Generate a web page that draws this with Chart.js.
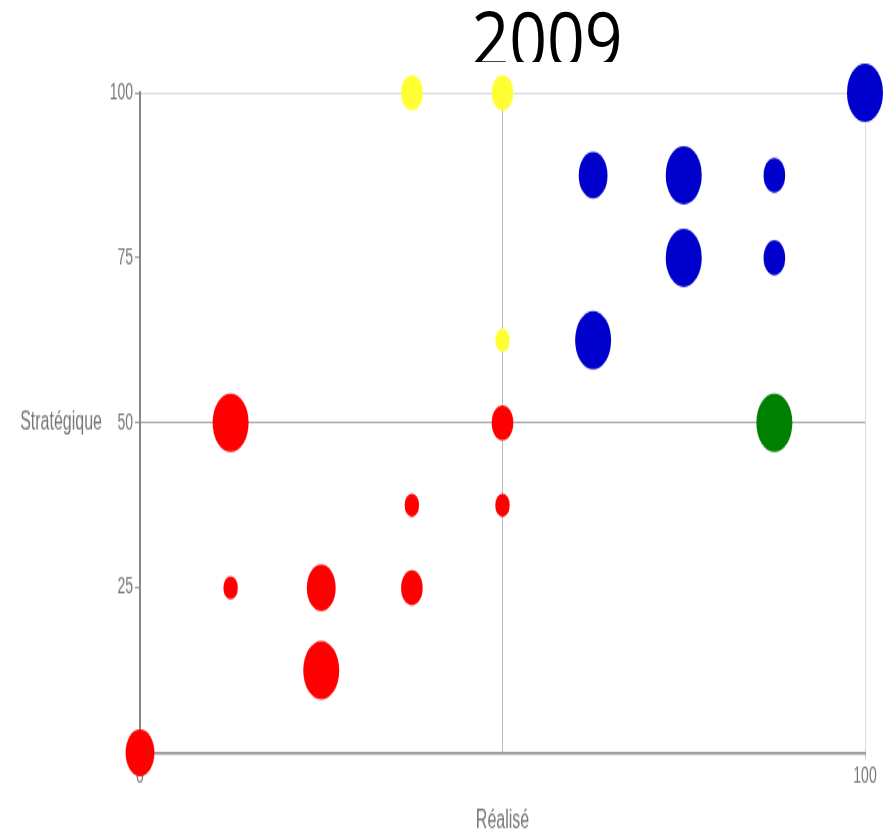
<!DOCTYPE html>
<html>
<head>
<meta charset="utf-8">
<script src="https://cdn.jsdelivr.net/npm/chart.js@4"></script>
<style>
  html, body { margin: 0; padding: 0; background: #fff; overflow: hidden; }
  #titre { position: absolute; left: 0; top: 0; width: 886px; height: 62px; overflow: hidden; }
  #titre span {
    position: absolute; left: 547px; top: 0;
    font-family: "Open Sans", sans-serif; font-size: 76px; line-height: 1;
    color: #000; white-space: nowrap;
    transform: translateX(-50%) scaleX(0.87);
  }
  #graphe { position: absolute; left: 0; top: 62px; width: 886px; height: 771px; background: #fff; }
</style>
</head>
<body>
<div id="titre"><span>2009</span></div>
<canvas id="graphe" width="886" height="476" style="width:886px;height:771px"></canvas>
<script>
// nombre de projets par case -> taille de la bulle
const rougeX = [0, 12.5, 50, 37.5, 50, 12.5, 25, 37.5, 25];
const rougeY = [0, 50, 50, 37.5, 37.5, 25, 25, 25, 12.5];
const rougeN = [3, 4, 2, 1, 1, 1, 3, 2, 4];

const jauneX = [37.5, 50, 50];
const jauneY = [100, 100, 62.5];
const jauneN = [2, 2, 1];

const bleuX = [100, 62.5, 75, 87.5, 75, 87.5, 62.5];
const bleuY = [100, 87.5, 87.5, 87.5, 75, 75, 62.5];
const bleuN = [4, 3, 4, 2, 4, 2, 4];

const vertX = [87.5];
const vertY = [50];
const vertN = [4];

const yTicks = [0, 25, 50, 75, 100];
const xTicks = [0, 50, 100];

const gris = "#777";

function bulles(xs, ys, ns) {
  return xs.map((x, i) => ({ x: x, y: ys[i], r: 3.6 * (ns[i] + 1) }));
}

function serie(xs, ys, ns, couleur) {
  return {
    data: bulles(xs, ys, ns),
    backgroundColor: couleur,
    borderWidth: 0,
    hoverBorderWidth: 0,
    clip: false,
  };
}

// "Stratégique" est écrit à l'horizontale, à hauteur de 50
const titreAxeY = {
  id: "titreAxeY",
  afterDraw(chart) {
    const { ctx } = chart;
    const y = chart.scales.y.getPixelForValue(50);
    ctx.save();
    ctx.font = '16px "Liberation Sans", Arial, sans-serif';
    ctx.fillStyle = gris;
    ctx.textAlign = "right";
    ctx.textBaseline = "middle";
    ctx.fillText("Stratégique", 102, y);
    ctx.restore();
  },
};

const config = {
  type: "bubble",
  data: {
    datasets: [
      serie(rougeX, rougeY, rougeN, "#ff0000"),
      serie(jauneX, jauneY, jauneN, "#ffff33"),
      serie(bleuX, bleuY, bleuN, "#0000cc"),
      serie(vertX, vertY, vertN, "#008000"),
    ],
  },
  options: {
    responsive: false,
    animation: false,
    events: [],
    layout: { padding: { top: 19, right: 21, left: 0, bottom: 0 } },
    plugins: { legend: { display: false }, tooltip: { enabled: false }, title: { display: false } },
    scales: {
      x: {
        type: "linear",
        min: 0,
        max: 100,
        afterFit: (s) => { s.height = 49.5; },
        afterBuildTicks: (s) => { s.ticks = xTicks.map((v) => ({ value: v })); },
        ticks: {
          padding: 2,
          maxRotation: 0,
          color: gris,
          font: { family: '"Liberation Sans", Arial, sans-serif', size: 14 },
          callback: (v) => (v === 50 ? "" : v),
        },
        grid: {
          tickLength: 4,
          color: (c) => (c.tick.value === 50 ? "#bbbbbb" : c.tick.value === 100 ? "#dddddd" : "rgba(0,0,0,0)"),
          tickColor: (c) => (c.tick.value === 50 ? "rgba(0,0,0,0)" : "#cccccc"),
        },
        border: { color: "#888", width: 1.5 },
        title: {
          display: true,
          text: "Réalisé",
          color: gris,
          padding: 0,
          font: { family: '"Liberation Sans", Arial, sans-serif', size: 16, lineHeight: 0.95 },
        },
      },
      y: {
        type: "linear",
        min: 0,
        max: 100,
        afterFit: (s) => { s.width = 140; },
        afterBuildTicks: (s) => { s.ticks = yTicks.map((v) => ({ value: v })); },
        ticks: {
          padding: 2,
          color: gris,
          font: { family: '"Liberation Sans", Arial, sans-serif', size: 14 },
          callback: (v) => (v === 0 ? "" : v),
        },
        grid: {
          tickLength: 5,
          color: (c) => (c.tick.value === 50 ? "#aaaaaa" : c.tick.value === 100 ? "#dddddd" : "rgba(0,0,0,0)"),
          tickColor: "#999",
        },
        border: { color: "#888", width: 2 },
      },
    },
  },
  plugins: [titreAxeY],
};

let monGraphe = new Chart(document.getElementById("graphe"), config);
</script>
</body>
</html>
